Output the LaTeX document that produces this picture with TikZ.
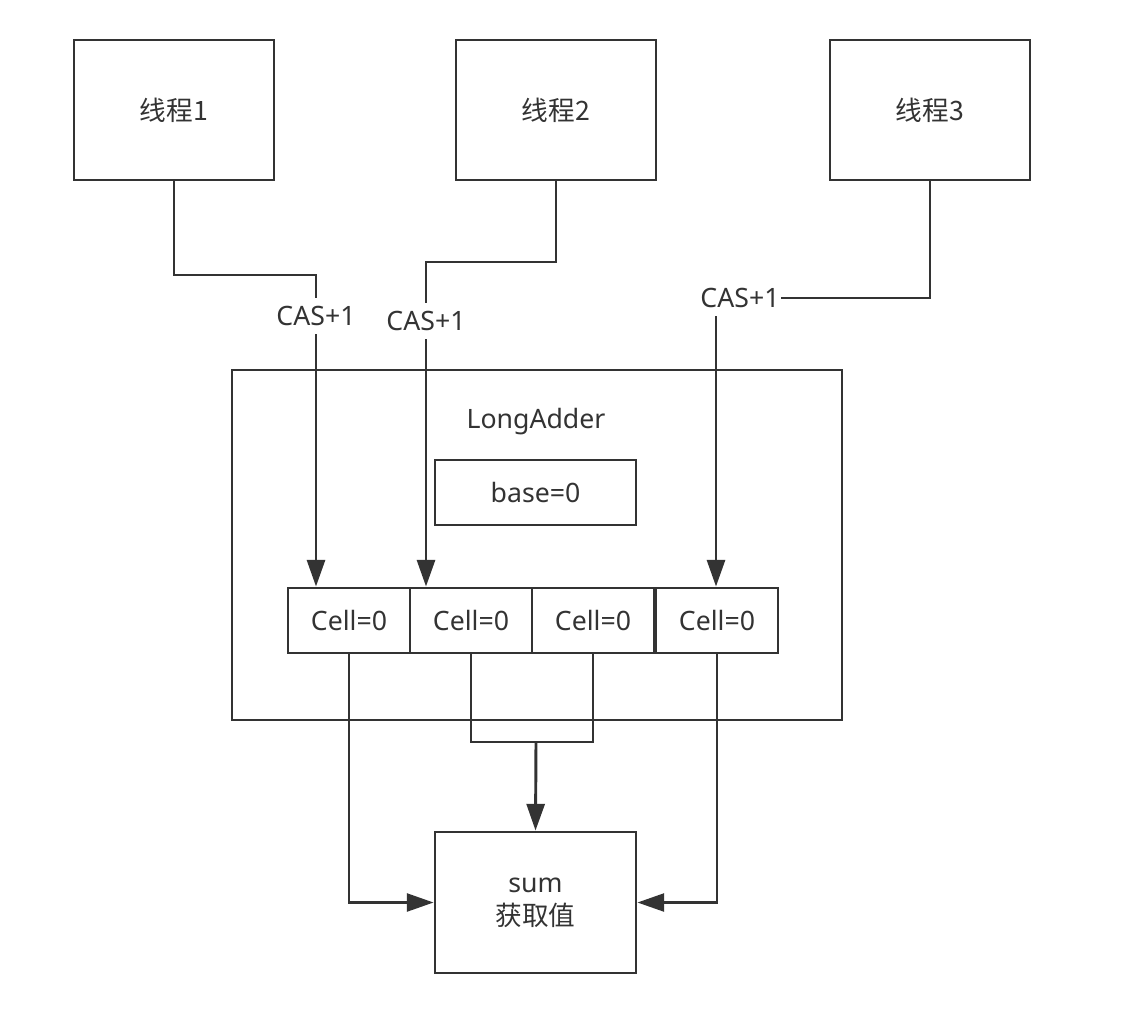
\documentclass[tikz,border=0pt]{standalone}
\usepackage{fontspec}
\setmainfont{Noto Sans}
\newfontfamily\cjk{Noto Sans CJK SC}
\usetikzlibrary{arrows.meta}
\definecolor{ink}{HTML}{333333}
\tikzset{
	box/.style={draw=ink,line width=2.2pt,minimum width=150pt,minimum height=105pt,text=ink,align=center},
	cellbox/.style={draw=ink,line width=2.2pt,minimum width=91.5pt,minimum height=48.75pt,text=ink},
	lbl/.style={text=ink,inner sep=1pt},
	conn/.style={draw=ink,line width=2.2pt},
	arr/.style={conn,-{Triangle[length=20pt,width=13.5pt]}},
}
\begin{document}
\begin{tikzpicture}[x=0.75pt,y=-0.75pt,font=\fontsize{20}{26}\selectfont]
	\useasboundingbox (0,0) rectangle (1130,1012);
	% threads
	\node[box] (t1) at (174,110) {\cjk 线程1};
	\node[box] (t2) at (556,110) {\cjk 线程2};
	\node[box] (t3) at (930,110) {\cjk 线程3};
	% LongAdder
	\node[box,minimum width=457.5pt,minimum height=262.5pt] (adder) at (537,545) {};
	\node[lbl] (name) at (536,422) {LongAdder};
	\node[box,minimum width=150.75pt,minimum height=48.75pt] (base) at (535.5,492.5) {base=0};
	\node[cellbox] (c1) at (349,620.5) {Cell=0};
	\node[cellbox] (c2) at (471,620.5) {Cell=0};
	\node[cellbox] (c3) at (593,620.5) {Cell=0};
	\node[cellbox] (c4) at (717,620.5) {Cell=0};
	% sum
	\node[box,minimum width=150.75pt,minimum height=105.75pt] (sum) at (535.5,902.5) {sum\\[-1pt]{\cjk 获取值}};
	% CAS labels
	\node[lbl,inner ysep=6pt] (cas1) at (316,316) {CAS+1};
	\node[lbl,inner ysep=6pt] (cas2) at (426,321) {CAS+1};
	\node[lbl,inner ysep=6pt] (cas3) at (740,298) {CAS+1};
	\coordinate (k1) at (316,275);
	\coordinate (k2) at (426,262);
	\coordinate (k3) at (716,298);
	\coordinate (m) at (536,742);
	% thread to cell
	\draw[conn] (t1.south) |- (k1) -- (cas1.north);
	\draw[arr] (cas1.south) -- (cas1 |- c1.north);
	\draw[conn] (t2.south) |- (k2) -- (cas2.north);
	\draw[arr] (cas2.south) -- (cas2 |- c2.north);
	\draw[conn] (t3.south) |- (cas3.east);
	\draw[arr] (cas3.south -| k3) -- (k3 |- c4.north);
	% cell to sum
	\draw[arr,line width=1.8pt] (c1.south) |- (sum.west);
	\draw[arr,line width=1.8pt] (c4.south) |- (sum.east);
	\draw[conn,line width=1.6pt] (c2.south) -- (c2.south |- m) -| (c3.south);
	\draw[arr] (m) -- (sum.north);
\end{tikzpicture}
\end{document}
